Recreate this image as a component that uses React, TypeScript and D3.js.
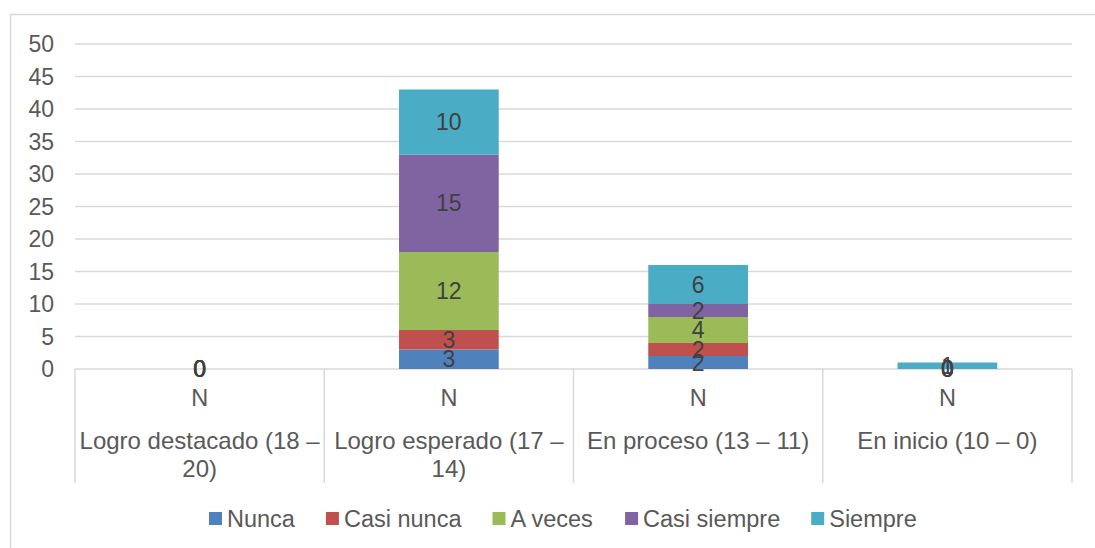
import React from "react";
import * as d3 from "d3";

const categories = [
  "Logro destacado (18 – 20)",
  "Logro esperado (17 – 14)",
  "En proceso (13 – 11)",
  "En inicio (10 – 0)",
];
const subLabel = "N";
const seriesNames = ["Nunca", "Casi nunca", "A veces", "Casi siempre", "Siempre"];
const seriesColors = ["#4F81BD", "#C0504D", "#9BBB59", "#8064A2", "#4BACC6"];
const nunca = [0, 3, 2, 0];
const casiNunca = [0, 3, 2, 0];
const aVeces = [0, 12, 4, 0];
const casiSiempre = [0, 15, 2, 0];
const siempre = [0, 10, 6, 1];
const yTicks = [0, 5, 10, 15, 20, 25, 30, 35, 40, 45, 50];

const W = 1095;
const H = 548;
const FONT = "'Liberation Sans', Arial, sans-serif";

let ctx: CanvasRenderingContext2D | null = null;
function measure(text: string, size: number): number {
  if (!ctx) {
    const c = document.createElement("canvas");
    ctx = c.getContext("2d");
  }
  if (!ctx) return text.length * size * 0.5;
  ctx.font = `${size}px ${FONT}`;
  return ctx.measureText(text).width;
}

function wrap(text: string, width: number, size: number): string[] {
  const words = text.split(" ");
  const lines: string[] = [];
  let cur = "";
  for (const w of words) {
    const t = cur ? cur + " " + w : w;
    if (measure(t, size) > width && cur) {
      lines.push(cur);
      cur = w;
    } else cur = t;
  }
  if (cur) lines.push(cur);
  return lines;
}

export default function App() {
  const seriesValues = [nunca, casiNunca, aVeces, casiSiempre, siempre];
  const rows = categories.map((c, i) => {
    const r: any = { cat: c };
    seriesNames.forEach((s, j) => (r[s] = seriesValues[j][i]));
    return r;
  });
  const stacked = d3.stack<any>().keys(seriesNames)(rows);

  const plotL = 75;
  const plotR = 1072;
  const plotT = 44;
  const plotB = 369;

  const y = d3.scaleLinear().domain([0, 50]).range([plotB, plotT]);
  const xCat = d3.scaleBand<string>().domain(categories).range([plotL, plotR]).padding(0);
  const xBar = d3
    .scaleBand<string>()
    .domain(categories)
    .range([plotL, plotR])
    .paddingInner(0.6)
    .paddingOuter(0.3);

  const grid = "#d9d9d9";
  const tickColor = "#595959";
  const labelColor = "#404040";

  // legend layout
  const legendSize = 23.5;
  const sq = 13;
  let lx = 209;
  const legendItems = seriesNames.map((s, i) => {
    const item = { name: s, color: seriesColors[i], x: lx };
    lx += sq + 5 + measure(s, legendSize) + 31;
    return item;
  });

  return (
    <div style={{ position: "fixed", left: 0, top: 0, width: W, height: H, overflow: "hidden", background: "#fff" }}>
      <svg width={W} height={H} style={{ display: "block", fontFamily: FONT }}>
        <rect x={0} y={0} width={W} height={H} fill="#fff" />
        <rect x={10.5} y={14.5} width={1200} height={700} fill="none" stroke={grid} strokeWidth={1.5} />

        {yTicks.map((t) => (
          <g key={t}>
            <line x1={plotL} x2={plotR} y1={y(t)} y2={y(t)} stroke={grid} strokeWidth={1.5} />
            <text x={54} y={y(t)} dy="0.35em" textAnchor="end" fontSize={23} fill={tickColor}>
              {t}
            </text>
          </g>
        ))}

        {/* category separators */}
        {[...categories.map((c) => xCat(c)!), plotR].map((x, i) => (
          <line key={i} x1={x} x2={x} y1={plotB} y2={483} stroke={grid} strokeWidth={1.5} />
        ))}

        {/* bars */}
        {stacked.map((s, si) => (
          <g key={s.key} fill={seriesColors[si]}>
            {s.map((d, ci) => (
              <rect
                key={ci}
                x={xBar(categories[ci])}
                width={xBar.bandwidth()}
                y={y(d[1])}
                height={y(d[0]) - y(d[1])}
              />
            ))}
          </g>
        ))}

        {/* data labels */}
        {stacked.map((s) => (
          <g key={"l" + s.key}>
            {s.map((d, ci) => (
              <text
                key={ci}
                x={xBar(categories[ci])! + xBar.bandwidth() / 2}
                y={y((d[0] + d[1]) / 2)}
                dy="0.35em"
                textAnchor="middle"
                fontSize={23}
                fill={labelColor}
              >
                {d[1] - d[0]}
              </text>
            ))}
          </g>
        ))}

        {/* category labels */}
        {categories.map((c) => {
          const cx = xCat(c)! + xCat.bandwidth() / 2;
          const lines = wrap(c, xCat.bandwidth() - 4, 24);
          return (
            <g key={c}>
              <text x={cx} y={406} textAnchor="middle" fontSize={23.5} fill={tickColor}>
                {subLabel}
              </text>
              {lines.map((l, i) => (
                <text key={i} x={cx} y={449 + i * 28} textAnchor="middle" fontSize={24} fill={tickColor}>
                  {l}
                </text>
              ))}
            </g>
          );
        })}

        {/* legend */}
        {legendItems.map((it) => (
          <g key={it.name}>
            <rect x={it.x} y={512} width={sq} height={sq} fill={it.color} />
            <text x={it.x + sq + 5} y={527} fontSize={legendSize} fill={tickColor}>
              {it.name}
            </text>
          </g>
        ))}
      </svg>
    </div>
  );
}
